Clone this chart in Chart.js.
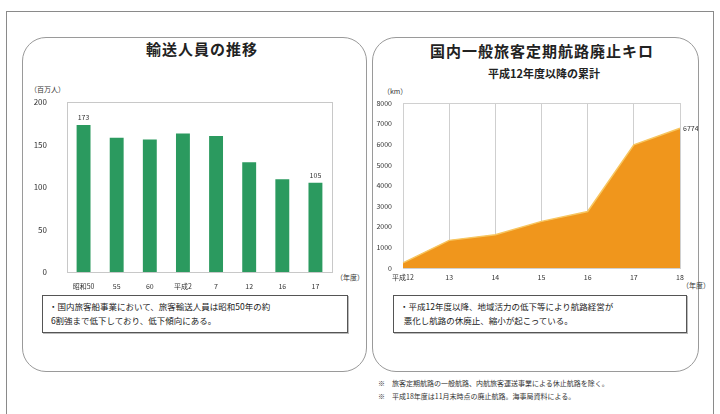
<!DOCTYPE html>
<html>
<head>
<meta charset="utf-8">
<script src="https://cdn.jsdelivr.net/npm/chart.js@4"></script>
<style>
	body { margin: 0; background: #fff; font-family: "Noto Sans CJK JP", "Noto Sans", sans-serif; color: #222; }
	#page { position: relative; width: 720px; height: 414px; overflow: hidden; }
	.frame { position: absolute; left: 6px; top: 11px; width: 706px; height: 500px; border: 1.5px solid #8a8a8a; }
	.panel { position: absolute; top: 37px; height: 335px; border: 1.5px solid #9a9a9a; border-radius: 24px; box-sizing: border-box; }
	.title { position: absolute; font-weight: bold; font-size: 15px; white-space: nowrap; transform: translateX(-50%); letter-spacing: 1px; }
	.sub { position: absolute; font-weight: bold; font-size: 11px; white-space: nowrap; transform: translateX(-50%); }
	.unit { position: absolute; font-size: 7px; white-space: nowrap; color: #333; }
	.box { position: absolute; border: 1px solid #555; box-shadow: 1px 1px 0 #bbb; font-size: 8.5px; line-height: 14px; padding: 3px 6px; box-sizing: border-box; white-space: nowrap; background: #fff; }
	.note { position: absolute; left: 378px; font-size: 7px; white-space: nowrap; color: #333; }
	canvas { position: absolute; }
</style>
</head>
<body>
<div id="page">
	<div class="frame"></div>
	<div class="panel" style="left:22px; width:345px;"></div>
	<div class="panel" style="left:372px; width:327px;"></div>

	<div class="title" style="left:202px; top:38px;">輸送人員の推移</div>
	<div class="title" style="left:542px; top:40px;">国内一般旅客定期航路廃止キロ</div>
	<div class="sub" style="left:544px; top:65px;">平成12年度以降の累計</div>

	<div class="unit" style="left:30px; top:84px;">（百万人）</div>
	<div class="unit" style="left:336px; top:272px;">（年度）</div>
	<div class="unit" style="left:383px; top:86px;">（km）</div>
	<div class="unit" style="left:682px; top:280px;">（年度）</div>

	<div style="position:absolute; left:22px; top:80px; width:340px; height:210px;"><canvas id="chartPassengers"></canvas></div>
	<div style="position:absolute; left:372px; top:80px; width:326px; height:210px;"><canvas id="chartRoutes"></canvas></div>

	<div class="box" style="left:42px; top:295px; width:306px; height:38px;">・国内旅客船事業において、旅客輸送人員は昭和50年の約<br>&nbsp;6割強まで低下しており、低下傾向にある。</div>
	<div class="box" style="left:393px; top:295px; width:294px; height:38px;">・平成12年度以降、地域活力の低下等により航路経営が<br>&nbsp;&nbsp;悪化し航路の休廃止、縮小が起こっている。</div>

	<div class="note" style="top:378px;">※　旅客定期航路の一般航路、内航旅客運送事業による休止航路を除く。</div>
	<div class="note" style="top:391px;">※　平成18年度は11月末時点の廃止航路。海事局資料による。</div>
</div>

<script>
// 輸送人員（百万人）
const passengerYears = ['昭和50', '55', '60', '平成2', '7', '12', '16', '17'];
const passengerValues = [173, 158, 156, 163, 160, 129, 109, 105];
const passengerTicks = [0, 50, 100, 150, 200];
const passengerLabelIdx = [0, 7];

// 廃止キロ累計（km）
const routeYears = ['平成12', '13', '14', '15', '16', '17', '18'];
const routeKm = [250, 1340, 1610, 2260, 2740, 5970, 6774];
const routeTicks = [0, 1000, 2000, 3000, 4000, 5000, 6000, 7000, 8000];
const routeLabelIdx = [6];

const baseFont = '"Noto Sans CJK JP", "Noto Sans", sans-serif';

// 枠線
const framePlugin = {
	id: 'frame',
	beforeDatasetsDraw: function(chart, args, opts) {
		if (!opts.color) return;
		let a = chart.chartArea;
		let ctx = chart.ctx;
		ctx.save();
		ctx.strokeStyle = opts.color;
		ctx.lineWidth = 1;
		ctx.strokeRect(a.left + 0.5, a.top + 0.5, a.right - a.left, a.bottom - a.top);
		ctx.restore();
	}
};

// 値ラベル
const valueLabels = {
	id: 'valueLabels',
	afterDatasetsDraw: function(chart, args, opts) {
		let meta = chart.getDatasetMeta(0);
		let data = chart.data.datasets[0].data;
		let ctx = chart.ctx;
		ctx.save();
		ctx.font = '7px ' + baseFont;
		ctx.fillStyle = '#333';
		opts.indices.forEach(function(i) {
			let el = meta.data[i];
			if (opts.side === 'right') {
				ctx.textAlign = 'left';
				ctx.textBaseline = 'middle';
				ctx.fillText(data[i], el.x + 3, el.y);
			} else {
				ctx.textAlign = 'center';
				ctx.textBaseline = 'bottom';
				ctx.fillText(data[i], el.x, el.y - 4);
			}
		});
		ctx.restore();
	}
};

function plainTick(value) {
	return String(value);
}

function loadPassengers() {
	window.chartPassengers = new Chart(document.getElementById('chartPassengers').getContext('2d'), {
		type: 'bar',
		data: {
			labels: passengerYears,
			datasets: [{
				data: passengerValues,
				backgroundColor: '#2b9a5f',
				barPercentage: 0.42,
				categoryPercentage: 1
			}]
		},
		plugins: [framePlugin, valueLabels],
		options: {
			responsive: true,
			maintainAspectRatio: false,
			animation: false,
			layout: { padding: { top: 22, right: 30, left: 0, bottom: 0 } },
			plugins: {
				legend: { display: false },
				tooltip: { enabled: false },
				frame: { color: '#c8c8c8' },
				valueLabels: { indices: passengerLabelIdx, side: 'top' }
			},
			scales: {
				x: {
					grid: { display: false },
					border: { color: '#e8a0a0', dash: [3, 2] },
					ticks: { font: { size: 7, family: baseFont }, color: '#333', maxRotation: 0, autoSkip: false, padding: 2 },
					afterFit: function(scale) { scale.height = 18; }
				},
				y: {
					min: 0,
					max: 200,
					afterBuildTicks: function(scale) { scale.ticks = passengerTicks.map(function(v) { return { value: v }; }); },
					grid: { display: false },
					border: { color: '#c8c8c8' },
					ticks: { font: { size: 8, family: baseFont }, color: '#333', padding: 12, callback: plainTick },
					afterFit: function(scale) { scale.width = 45; }
				}
			}
		}
	});
}

function loadRoutes() {
	window.chartRoutes = new Chart(document.getElementById('chartRoutes').getContext('2d'), {
		type: 'line',
		data: {
			labels: routeYears,
			datasets: [{
				data: routeKm,
				fill: 'origin',
				backgroundColor: '#f0961c',
				borderColor: '#f7c660',
				borderWidth: 1.5,
				pointRadius: 0,
				tension: 0
			}]
		},
		plugins: [framePlugin, valueLabels],
		options: {
			responsive: true,
			maintainAspectRatio: false,
			animation: false,
			layout: { padding: { top: 23, right: 18, left: 0, bottom: 0 } },
			plugins: {
				legend: { display: false },
				tooltip: { enabled: false },
				frame: { color: '#d0d0d0' },
				valueLabels: { indices: routeLabelIdx, side: 'right' }
			},
			scales: {
				x: {
					grid: { display: true, color: '#cfcfcf', drawTicks: false },
					border: { color: '#bbb' },
					ticks: { font: { size: 7, family: baseFont }, color: '#333', maxRotation: 0, autoSkip: false, padding: 5 },
					afterFit: function(scale) { scale.height = 22; }
				},
				y: {
					min: 0,
					max: 8000,
					afterBuildTicks: function(scale) { scale.ticks = routeTicks.map(function(v) { return { value: v }; }); },
					grid: { display: false },
					border: { color: '#bbb' },
					ticks: { font: { size: 7, family: baseFont }, color: '#333', padding: 3, callback: plainTick },
					afterFit: function(scale) { scale.width = 31; }
				}
			}
		}
	});
}

loadPassengers();
loadRoutes();
</script>
</body>
</html>
